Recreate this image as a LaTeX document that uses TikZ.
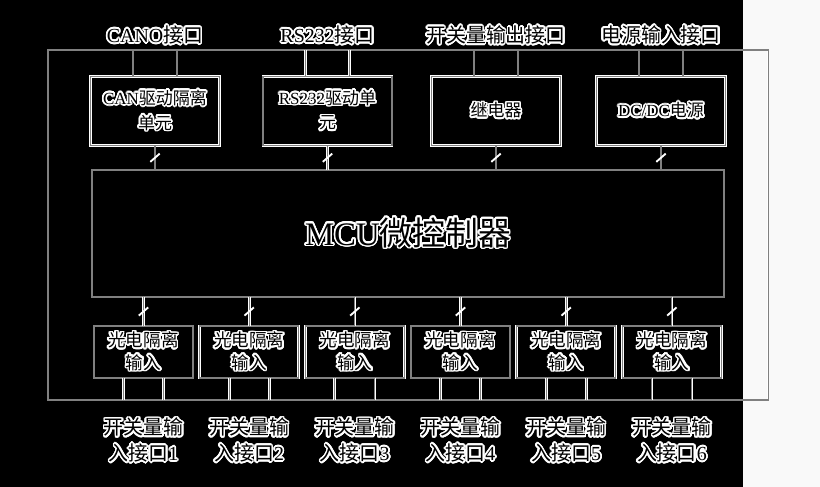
\documentclass[tikz,border=0pt]{standalone}
\usepackage{fontspec}
\setmainfont{Liberation Serif}
\newfontfamily\cjk{Noto Sans CJK SC}
\usepackage{contour}
\contourlength{1.4pt}
\contournumber{24}
\usetikzlibrary{positioning,calc,decorations.markings}

\newcommand{\zh}[1]{{\cjk #1}}
\newcommand{\halo}[1]{\contour{white}{#1}}

\begin{document}
\begin{tikzpicture}[x=0.03cm, y=-0.03cm, node distance=3.17cm,
  ln/.style={draw=white, double=gray, double distance=0.9pt, line width=0.7pt},
  unit/.style={ln, minimum width=3.87cm, minimum height=2.07cm, align=center, inner sep=1pt, font=\fontsize{14.5}{21}\selectfont},
  inbox/.style={ln, minimum width=2.97cm, minimum height=1.56cm, align=center, inner sep=1pt, font=\fontsize{15}{19}\selectfont},
  port/.style={align=center, inner sep=0pt, font=\fontsize{17}{22}\selectfont},
  bus/.style={ln, postaction={decorate}, decoration={markings, mark=at position 0.5 with {\draw[white, line width=1.6pt] (3.5pt,-4pt) -- (-3.5pt,4pt);}}}]

  % Background
  \fill[black] (0,0) rectangle (743,487);
  \fill[gray!5] (743,0) rectangle (820,487);
  \useasboundingbox (0,0) rectangle (820,487);

  % Board
  \node[ln, minimum width=21.6cm, minimum height=10.5cm] (board) at (408,225) {};

  % Top row
  \node[unit] (CAN) at (155,111) {\halo{CAN\zh{驱动隔离}}\\\halo{\zh{单元}}};
  \node[unit] (RS) at (327.5,111) {\halo{RS232\zh{驱动单}}\\\halo{\zh{元}}};
  \node[unit] (Relay) at (496,111) {\halo{\zh{继电器}}};
  \node[unit] (Power) at (661,111) {\halo{DC/DC\zh{电源}}};

  % MCU
  \node[ln, minimum width=18.96cm, minimum height=3.81cm, font=\fontsize{28}{30}\selectfont] (MCU) at (408,233.5) {\halo{MCU\zh{微控制器}}};

  % Bottom row
  \node[inbox] (In1) at (143.5,352) {\halo{\zh{光电隔离}}\\\halo{\zh{输入}}};
  \node[inbox, right of=In1] (In2) {\halo{\zh{光电隔离}}\\\halo{\zh{输入}}};
  \node[inbox, right of=In2] (In3) {\halo{\zh{光电隔离}}\\\halo{\zh{输入}}};
  \node[inbox, right of=In3] (In4) {\halo{\zh{光电隔离}}\\\halo{\zh{输入}}};
  \node[inbox, right of=In4] (In5) {\halo{\zh{光电隔离}}\\\halo{\zh{输入}}};
  \node[inbox, right of=In5] (In6) {\halo{\zh{光电隔离}}\\\halo{\zh{输入}}};

  % Port labels
  \node[port, anchor=south] (pCAN) at ([yshift=3pt]CAN.north |- board.north) {\halo{CANO\zh{接口}}};
  \node[port, anchor=south] (pRS) at ([yshift=3pt]RS.north |- board.north) {\halo{RS232\zh{接口}}};
  \node[port, anchor=south] (pRelay) at ([yshift=3pt]Relay.north |- board.north) {\halo{\zh{开关量输出接口}}};
  \node[port, anchor=south] (pPower) at ([yshift=3pt]Power.north |- board.north) {\halo{\zh{电源输入接口}}};
  \node[port, anchor=north] (pIn1) at ([yshift=-0.52cm]In1.south |- board.south) {\halo{\zh{开关量输}}\\\halo{\zh{入接口}1}};
  \node[port, anchor=north] (pIn2) at ([yshift=-0.52cm]In2.south |- board.south) {\halo{\zh{开关量输}}\\\halo{\zh{入接口}2}};
  \node[port, anchor=north] (pIn3) at ([yshift=-0.52cm]In3.south |- board.south) {\halo{\zh{开关量输}}\\\halo{\zh{入接口}3}};
  \node[port, anchor=north] (pIn4) at ([yshift=-0.52cm]In4.south |- board.south) {\halo{\zh{开关量输}}\\\halo{\zh{入接口}4}};
  \node[port, anchor=north] (pIn5) at ([yshift=-0.52cm]In5.south |- board.south) {\halo{\zh{开关量输}}\\\halo{\zh{入接口}5}};
  \node[port, anchor=north] (pIn6) at ([yshift=-0.52cm]In6.south |- board.south) {\halo{\zh{开关量输}}\\\halo{\zh{入接口}6}};

  % Wires to the board edge (top)
  \draw[ln] ([xshift=-0.66cm]CAN.north) -- ([xshift=-0.66cm]CAN.north |- board.north);
  \draw[ln] ([xshift=0.66cm]CAN.north) -- ([xshift=0.66cm]CAN.north |- board.north);
  \draw[ln] ([xshift=-0.66cm]RS.north) -- ([xshift=-0.66cm]RS.north |- board.north);
  \draw[ln] ([xshift=0.66cm]RS.north) -- ([xshift=0.66cm]RS.north |- board.north);
  \draw[ln] ([xshift=-0.66cm]Relay.north) -- ([xshift=-0.66cm]Relay.north |- board.north);
  \draw[ln] ([xshift=0.66cm]Relay.north) -- ([xshift=0.66cm]Relay.north |- board.north);
  \draw[ln] ([xshift=-0.66cm]Power.north) -- ([xshift=-0.66cm]Power.north |- board.north);
  \draw[ln] ([xshift=0.66cm]Power.north) -- ([xshift=0.66cm]Power.north |- board.north);

  % Buses to the MCU
  \draw[bus] (CAN.south) -- (CAN.south |- MCU.north);
  \draw[bus] (RS.south) -- (RS.south |- MCU.north);
  \draw[bus] (Relay.south) -- (Relay.south |- MCU.north);
  \draw[bus] (Power.south) -- (Power.south |- MCU.north);
  \draw[bus] (In1.north |- MCU.south) -- (In1.north);
  \draw[bus] (In2.north |- MCU.south) -- (In2.north);
  \draw[bus] (In3.north |- MCU.south) -- (In3.north);
  \draw[bus] (In4.north |- MCU.south) -- (In4.north);
  \draw[bus] (In5.north |- MCU.south) -- (In5.north);
  \draw[bus] (In6.north |- MCU.south) -- (In6.north);

  % Wires to the board edge (bottom)
  \draw[ln] ([xshift=-0.6cm]In1.south) -- ([xshift=-0.6cm]In1.south |- board.south);
  \draw[ln] ([xshift=0.6cm]In1.south) -- ([xshift=0.6cm]In1.south |- board.south);
  \draw[ln] ([xshift=-0.6cm]In2.south) -- ([xshift=-0.6cm]In2.south |- board.south);
  \draw[ln] ([xshift=0.6cm]In2.south) -- ([xshift=0.6cm]In2.south |- board.south);
  \draw[ln] ([xshift=-0.6cm]In3.south) -- ([xshift=-0.6cm]In3.south |- board.south);
  \draw[ln] ([xshift=0.6cm]In3.south) -- ([xshift=0.6cm]In3.south |- board.south);
  \draw[ln] ([xshift=-0.6cm]In4.south) -- ([xshift=-0.6cm]In4.south |- board.south);
  \draw[ln] ([xshift=0.6cm]In4.south) -- ([xshift=0.6cm]In4.south |- board.south);
  \draw[ln] ([xshift=-0.6cm]In5.south) -- ([xshift=-0.6cm]In5.south |- board.south);
  \draw[ln] ([xshift=0.6cm]In5.south) -- ([xshift=0.6cm]In5.south |- board.south);
  \draw[ln] ([xshift=-0.6cm]In6.south) -- ([xshift=-0.6cm]In6.south |- board.south);
  \draw[ln] ([xshift=0.6cm]In6.south) -- ([xshift=0.6cm]In6.south |- board.south);

\end{tikzpicture}
\end{document}
